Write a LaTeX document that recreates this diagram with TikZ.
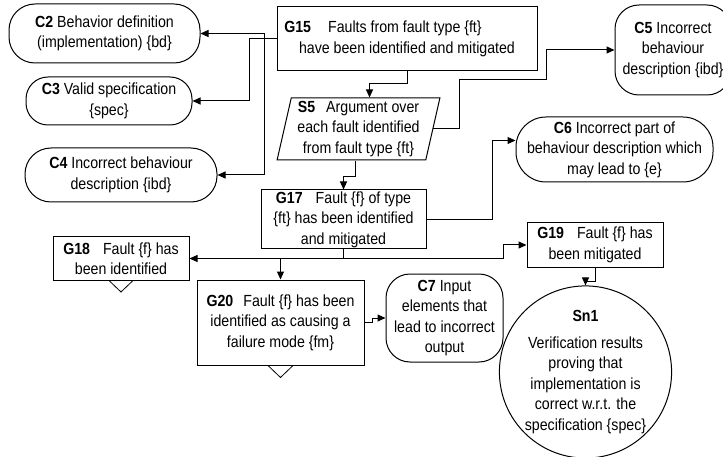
\documentclass[tikz,border=0pt]{standalone}
\usepackage{fontspec}
\setmainfont{Liberation Sans}[FakeStretch=0.88]
\usetikzlibrary{arrows.meta, shapes.geometric}

\tikzset{
    gsn/.style={draw, line width=1pt, inner sep=0pt, align=center,
        font=\fontsize{16.1}{20.5}\selectfont},
    goal/.style={gsn, rectangle},
    ctx/.style={gsn, rectangle, rounded corners=#1},
    ctx/.default=24pt,
    strat/.style={gsn, trapezium, trapezium stretches=true,
        trapezium left angle=77, trapezium right angle=103},
    soln/.style={gsn, circle},
    link/.style={line width=1pt, -{Triangle[length=8pt, width=7pt]}},
    undev/.style={line width=0.8pt}
}

\begin{document}
\begin{tikzpicture}[x=1pt, y=-1pt]
        \useasboundingbox (0,0) rectangle (723,457);

        \node[goal, minimum width=260, minimum height=64] (G15) at (407,39)
            {\textbf{G15}\hspace{17pt}Faults from fault type \{ft\}\hspace*{48pt}\\have been identified and mitigated};
        \node[strat, minimum width=163, minimum height=62] (S5) at (358.5,129)
            {\textbf{S5}\hspace{11pt}Argument over\\each fault identified\\from fault type \{ft\}};
        \node[goal, minimum width=165, minimum height=59] (G17) at (343.5,219.5)
            {\textbf{G17}\hspace{13pt}Fault \{f\} of type\\\{ft\} has been identified\\and mitigated};
        \node[goal, minimum width=136, minimum height=44] (G18) at (121,258.5)
            {\textbf{G18}\hspace{13pt}Fault \{f\} has\\been identified};
        \node[goal, minimum width=136, minimum height=44] (G19) at (595,245)
            {\textbf{G19}\hspace{13pt}Fault \{f\} has\\been mitigated};
        \node[goal, minimum width=167, minimum height=85] (G20) at (280.5,322.5)
            {\textbf{G20}\hspace{10pt}Fault \{f\} has been\\identified as causing a\\failure mode \{fm\}};

        \node[ctx=26pt, minimum width=191, minimum height=59] (C2) at (104.5,33.5)
            {\textbf{C2} Behavior definition\\(implementation) \{bd\}};
        \node[ctx=22pt, minimum width=166, minimum height=48] (C3) at (109,101)
            {\textbf{C3} Valid specification\\\{spec\}};
        \node[ctx=26pt, minimum width=192, minimum height=54] (C4) at (121,175)
            {\textbf{C4} Incorrect behaviour\\description \{ibd\}};
        \node[ctx, minimum width=116, minimum height=90] (C5) at (673,50)
            {\textbf{C5} Incorrect\\behaviour\\description \{ibd\}};
        \node[ctx=30pt, minimum width=197, minimum height=65] (C6) at (614.5,149.5)
            {\textbf{C6} Incorrect part of\\behaviour description which\\may lead to \{e\}};
        \node[ctx, minimum width=117, minimum height=88] (C7) at (444.5,318)
            {\textbf{C7} Input\\elements that\\lead to incorrect\\output};

        \node[soln, minimum size=167] (Sn1) at (585.5,372)
            {\textbf{Sn1}\\[6pt]Verification results\\proving that\\implementation is\\correct w.r.t. the\\specification \{spec\}};

        \draw[link] (G15.west) -- ++(-12,0) |- (C2.east);
        \draw[link] (G15.west) -- ++(-27,0) |- (C3.east);
        \draw[link] (G15.west) -- ++(-12,0) |- (C4.east);
        \draw[link] (G15.south) -- ++(0,12) -| ([xshift=11pt]S5.north);
        \draw[link] (S5.east) -- ++(26,0) |- (546,80) |- (C5.west);
        \draw[link] ([xshift=-3pt]S5.south) -- ++(0,16) -| (G17.north);
        \draw[link] (G17.east) -- ++(66,0) |- ([yshift=9pt]C6.west);
        \draw[link] (G17.south) |- (G18.east);
        \draw[link] (G17.south) -- ++(0,9) -| (G20.north);
        \draw[link] (G17.south) -- ++(0,9) -| ([xshift=-23pt]G19.west) -- (G19.west);
        \draw[link] (G20.east) -- ++(8,0) |- (C7.west);
        \draw[link] (G19.south) -- ++(0,14) -| (Sn1.north);

        \draw[undev] ([xshift=-11.5pt]G18.south) -- ++(11.5,11) -- ++(11.5,-11);
        \draw[undev] ([xshift=-12.5pt]G20.south) -- ++(12.5,12) -- ++(12.5,-12);
    \end{tikzpicture}
\end{document}
